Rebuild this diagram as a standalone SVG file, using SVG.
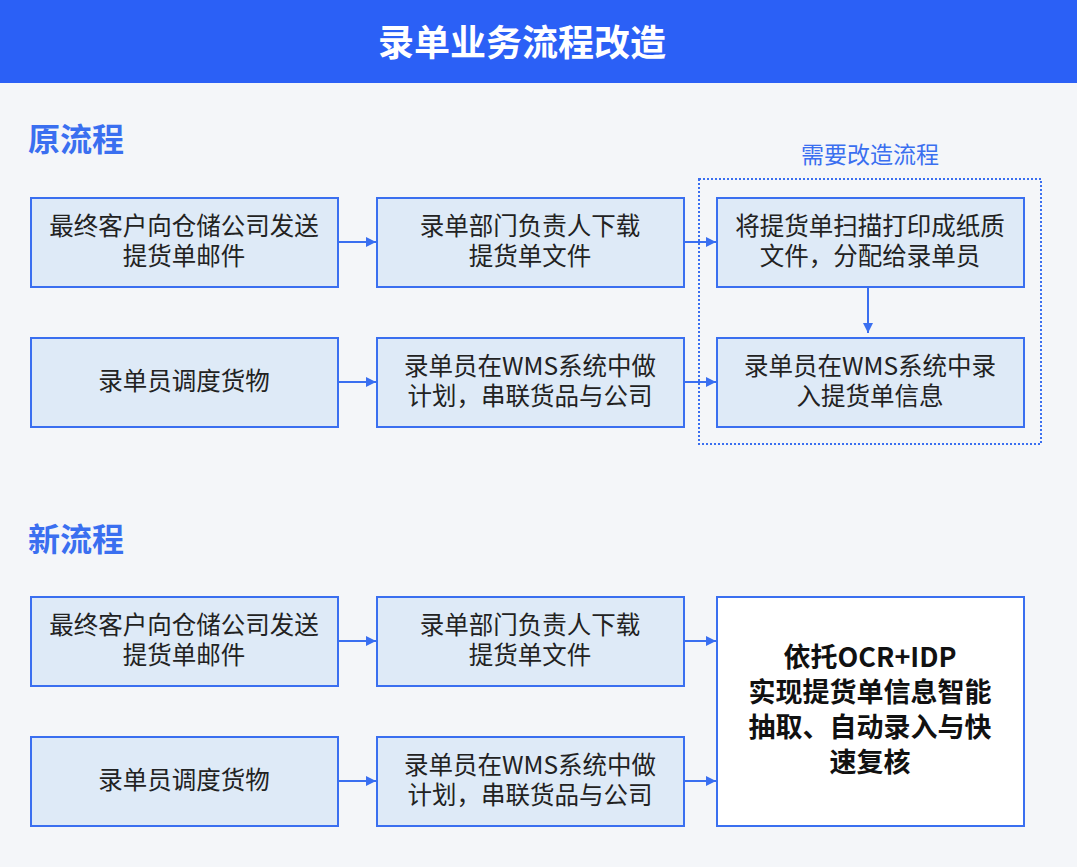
<svg xmlns="http://www.w3.org/2000/svg" width="1077" height="867" viewBox="0 0 1077 867">
<style>
.b{fill:#deeaf7;stroke:#3a6ff0;stroke-width:2}
.t{font-family:"Noto Sans CJK SC",sans-serif;font-size:24.5px;fill:#222;text-anchor:middle}
.h{font-family:"Noto Sans CJK SC",sans-serif;font-size:32px;font-weight:bold;fill:#3a6ff0}
.c{stroke:#3a6ff0;stroke-width:2;fill:none;marker-end:url(#a)}
</style>
<defs><marker id="a" viewBox="0 0 10 10" refX="10" refY="5" markerWidth="5" markerHeight="5" orient="auto"><path d="M0,0L10,5L0,10z" fill="#3a6ff0"/></marker></defs>
<rect width="1077" height="867" fill="#f4f6f9"/>
<rect width="1077" height="83" fill="#2b60f6"/>
<text x="522" y="56" text-anchor="middle" font-family="Noto Sans CJK SC,sans-serif" font-size="36" font-weight="bold" fill="#fff">录单业务流程改造</text>
<text class="h" x="28" y="151">原流程</text>
<text class="h" x="28" y="551">新流程</text>
<text x="870" y="163" text-anchor="middle" font-family="Noto Sans CJK SC,sans-serif" font-size="23" fill="#3a6ff0">需要改造流程</text>
<rect x="699" y="179" width="342" height="265" fill="none" stroke="#3a6ff0" stroke-width="2" stroke-dasharray="2,2"/>
<g id="n1"><rect class="b" x="31" y="198" width="307" height="89"/><text class="t" x="184" y="235">最终客户向仓储公司发送</text><text class="t" x="184" y="265">提货单邮件</text></g>
<g id="n2"><rect class="b" x="377" y="198" width="307" height="89"/><text class="t" x="530" y="235">录单部门负责人下载</text><text class="t" x="530" y="265">提货单文件</text></g>
<g id="n3"><rect class="b" x="717" y="198" width="307" height="89"/><text class="t" x="870" y="235">将提货单扫描打印成纸质</text><text class="t" x="870" y="265">文件，分配给录单员</text></g>
<g id="n4"><rect class="b" x="31" y="338" width="307" height="89"/><text class="t" x="184" y="390">录单员调度货物</text></g>
<g id="n5"><rect class="b" x="377" y="338" width="307" height="89"/><text class="t" x="530" y="375">录单员在WMS系统中做</text><text class="t" x="530" y="405">计划，串联货品与公司</text></g>
<g id="n6"><rect class="b" x="717" y="338" width="307" height="89"/><text class="t" x="870" y="375">录单员在WMS系统中录</text><text class="t" x="870" y="405">入提货单信息</text></g>
<g id="m1"><rect class="b" x="31" y="597" width="307" height="89"/><text class="t" x="184" y="634">最终客户向仓储公司发送</text><text class="t" x="184" y="664">提货单邮件</text></g>
<g id="m2"><rect class="b" x="377" y="597" width="307" height="89"/><text class="t" x="530" y="634">录单部门负责人下载</text><text class="t" x="530" y="664">提货单文件</text></g>
<g id="m4"><rect class="b" x="31" y="737" width="307" height="89"/><text class="t" x="184" y="789">录单员调度货物</text></g>
<g id="m5"><rect class="b" x="377" y="737" width="307" height="89"/><text class="t" x="530" y="774">录单员在WMS系统中做</text><text class="t" x="530" y="804">计划，串联货品与公司</text></g>
<g id="m6"><rect x="717" y="597" width="307" height="229" fill="#fff" stroke="#3a6ff0" stroke-width="2"/>
<g font-family="Noto Sans CJK SC,sans-serif" font-size="27" font-weight="bold" fill="#111" text-anchor="middle"><text x="870" y="667">依托OCR+IDP</text><text x="870" y="702">实现提货单信息智能</text><text x="870" y="737">抽取、自动录入与快</text><text x="870" y="772">速复核</text></g></g>
<g id="connectors">
<path class="c" d="M339,242H376"/><path class="c" d="M685,242H716"/><path class="c" d="M868,288V333"/>
<path class="c" d="M339,382H376"/><path class="c" d="M685,382H716"/>
<path class="c" d="M339,641H376"/><path class="c" d="M685,641H716"/>
<path class="c" d="M339,781H376"/><path class="c" d="M685,781H716"/>
</g>
</svg>
